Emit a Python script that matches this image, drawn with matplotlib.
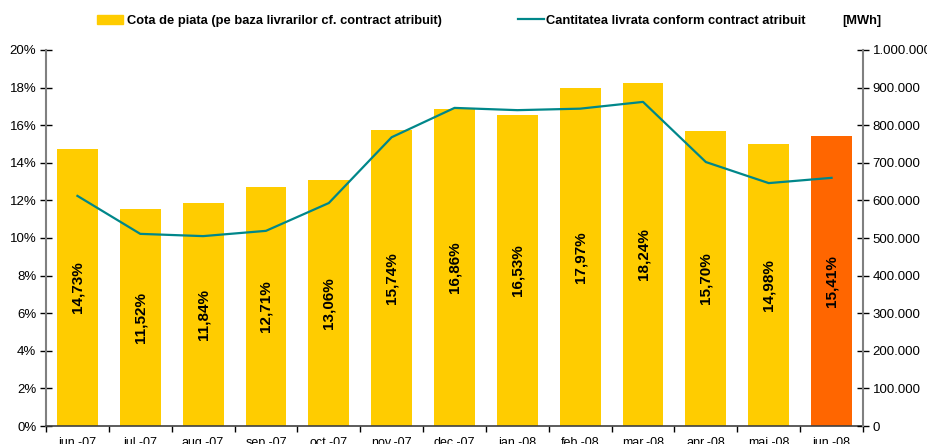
import matplotlib.pyplot as plt
from matplotlib.ticker import FuncFormatter
from matplotlib.patches import Patch
from matplotlib.lines import Line2D

plt.rcParams['font.family'] = ['Liberation Sans', 'DejaVu Sans']

luni = ["iun.-07", "iul.-07", "aug.-07", "sep.-07", "oct.-07", "nov.-07", "dec.-07",
        "ian.-08", "feb.-08", "mar.-08", "apr.-08", "mai.-08", "iun.-08"]
cota = [14.73, 11.52, 11.84, 12.71, 13.06, 15.74, 16.86, 16.53, 17.97, 18.24, 15.70, 14.98, 15.41]
cantitate = [612000, 511000, 505000, 519000, 593000, 768000, 846000,
             840000, 844000, 862000, 702000, 646000, 660000]

galben = "#FFCC00"
portocaliu = "#FF6600"
teal = "#00878A"
gri = "#808080"

fig = plt.figure(figsize=(9.28, 4.44), dpi=100)
ax = fig.add_axes([46 / 928, 18 / 444, 817 / 928, 376 / 444])
ax2 = ax.twinx()

x = list(range(len(luni)))
culori = [galben] * (len(luni) - 1) + [portocaliu]
ax.bar(x, cota, width=0.65, color=culori, zorder=2)

# etichetele din bare, rotite
for i, v in enumerate(cota):
    ax.text(i, v / 2, f"{v:.2f}%".replace(".", ","), rotation=90, ha="center", va="center",
            fontsize=11, fontweight="bold", zorder=3)

# linia peste bare (ax2 e deasupra)
ax2.plot(x, cantitate, color=teal, linewidth=1.6, zorder=4)

ax.set_xlim(-0.5, len(luni) - 0.5)
ax.set_ylim(0, 20)
ax2.set_ylim(0, 1000000)
ax.set_yticks(range(0, 21, 2))
ax2.set_yticks(range(0, 1000001, 100000))
ax.yaxis.set_major_formatter(FuncFormatter(lambda v, p: f"{int(v)}%"))
ax2.yaxis.set_major_formatter(FuncFormatter(lambda v, p: f"{int(v):,}".replace(",", ".")))

ax.set_xticks([i - 0.5 for i in range(len(luni) + 1)])
ax.set_xticklabels([])
ax.set_xticks(x, minor=True)
ax.set_xticklabels(luni, minor=True)
ax.tick_params(axis="x", which="major", direction="out", length=4, width=1, color="black")
ax.tick_params(axis="x", which="minor", length=0, pad=8, labelsize=9)

for a in (ax, ax2):
    for s in a.spines.values():
        s.set_visible(False)
ax.spines["left"].set_visible(True)
ax.spines["bottom"].set_visible(True)
ax2.spines["right"].set_visible(True)
ax.spines["left"].set_color(gri)
ax.spines["left"].set_linewidth(1.5)
ax2.spines["right"].set_color(gri)
ax2.spines["right"].set_linewidth(1.5)
ax.spines["bottom"].set_color("#404040")
ax.spines["bottom"].set_linewidth(1.2)

ax.tick_params(axis="y", direction="inout", length=8, width=1, labelsize=9.5, pad=3)
ax2.tick_params(axis="y", direction="inout", length=8, width=1, labelsize=9.5, pad=3)

fig.legend([Patch(color=galben)], ["Cota de piata (pe baza livrarilor cf. contract atribuit)"],
           loc="center left", bbox_to_anchor=(97 / 928, 1 - 21 / 444), frameon=False,
           prop={"weight": "bold", "size": 9.3}, handlelength=2.0, handleheight=0.7,
           handletextpad=0.3, borderpad=0, borderaxespad=0)
fig.legend([Line2D([0], [0], color=teal, linewidth=1.6)],
           ["Cantitatea livrata conform contract atribuit"],
           loc="center left", bbox_to_anchor=(518 / 928, 1 - 21 / 444), frameon=False,
           prop={"weight": "bold", "size": 9.3}, handlelength=2.0,
           handletextpad=0.2, borderpad=0, borderaxespad=0)
fig.text(842 / 928, 1 - 21 / 444, "[MWh]", fontsize=9.3, fontweight="bold", va="center")

fig.savefig("out.png", dpi=100)
